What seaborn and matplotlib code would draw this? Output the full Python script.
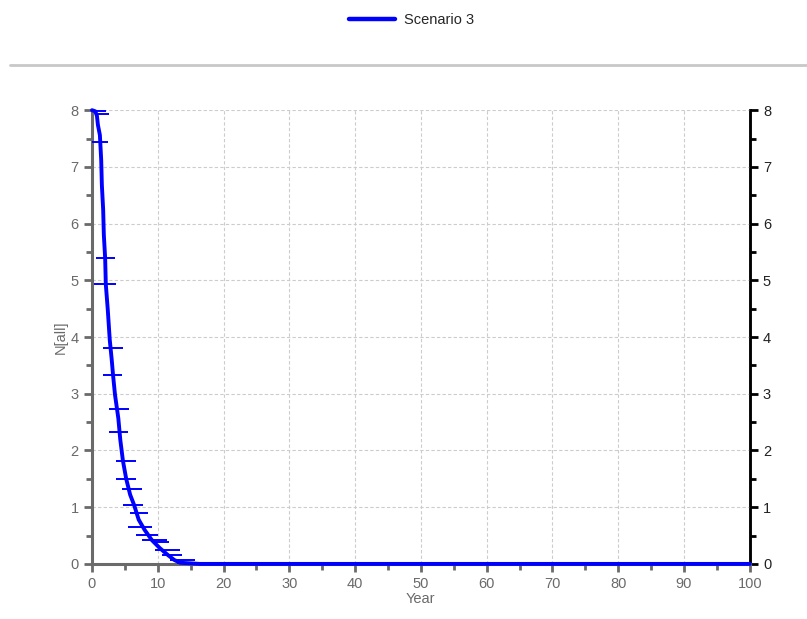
import matplotlib
matplotlib.use("Agg")
import matplotlib.pyplot as plt
import matplotlib.ticker as mticker
from matplotlib.lines import Line2D
import pandas as pd
import seaborn as sns

# main curve: N[all] by year
YEARS = [0.0, 0.5, 0.75, 0.9, 1.2, 1.4, 1.5, 1.7, 1.8, 2.0, 2.1, 2.4, 2.7, 3.0, 3.2,
         3.5, 4.0, 4.3, 4.7, 5.2, 5.8, 6.4, 7.1, 8.0, 9.1, 10.3, 11.5, 12.5, 13.4,
         16.4, 30.0, 50.0, 70.0, 100.0]
N_ALL = [8.0, 7.98, 7.9, 7.74, 7.56, 7.12, 6.68, 6.24, 5.8, 5.39, 4.93, 4.48, 3.95,
         3.6, 3.33, 2.98, 2.57, 2.19, 1.82, 1.5, 1.22, 1.04, 0.78, 0.6, 0.42, 0.28,
         0.16, 0.07, 0.02, 0.0, 0.0, 0.0, 0.0, 0.0]

# horizontal error bars (centre year, level, half width in years)
ERR_YEAR = [0.4, 1.5, 1.0, 2.05, 2.0, 3.2, 3.1, 4.1, 4.0, 5.2, 5.2, 6.1, 6.2, 7.1,
            7.3, 8.35, 9.5, 10.5, 11.5, 12.2, 13.8, 14.5]
ERR_N = [7.98, 7.93, 7.44, 5.39, 4.93, 3.80, 3.33, 2.73, 2.33, 1.82, 1.50, 1.32,
         1.04, 0.90, 0.65, 0.51, 0.42, 0.39, 0.25, 0.16, 0.07, 0.02]
ERR_HALF = [1.8, 1.05, 1.45, 1.45, 1.7, 1.5, 1.45, 1.5, 1.45, 1.5, 1.5, 1.5, 1.5,
            1.35, 1.8, 1.65, 1.9, 1.15, 1.9, 1.5, 1.9, 1.5]

SERIES = "Scenario 3"
BLUE = "#0000ff"
GRAY = "#6a6a6a"

sns.set_style("white")
plt.rcParams["font.family"] = ["Liberation Sans", "DejaVu Sans"]

fig = plt.figure(figsize=(8.07, 6.19), dpi=100)
ax = fig.add_axes([0.114, 0.089, 0.815, 0.733])

df = pd.DataFrame({"Year": YEARS, "N": N_ALL})
sns.lineplot(data=df, x="Year", y="N", sort=False, estimator=None,
             color=BLUE, linewidth=2.8, ax=ax, zorder=4, clip_on=False)
ax.errorbar(ERR_YEAR, ERR_N, xerr=ERR_HALF, fmt="none", ecolor=BLUE,
            elinewidth=1.4, capsize=0, zorder=4)

ax.set_xlim(0, 100)
ax.set_ylim(0, 8)
ax.xaxis.set_major_locator(mticker.MultipleLocator(10))
ax.xaxis.set_minor_locator(mticker.MultipleLocator(5))
ax.yaxis.set_major_locator(mticker.MultipleLocator(1))
ax.yaxis.set_minor_locator(mticker.MultipleLocator(0.5))

ax.grid(True, which="major", color="#cccccc", linestyle=(0, (3, 2)), linewidth=0.8)
ax.set_axisbelow(True)

ax.spines["top"].set_visible(False)
ax.spines["left"].set_color(GRAY)
ax.spines["left"].set_linewidth(2.2)
ax.spines["bottom"].set_color(GRAY)
ax.spines["bottom"].set_linewidth(2.2)
ax.spines["right"].set_color("black")
ax.spines["right"].set_linewidth(1.8)

ax.tick_params(axis="both", which="major", direction="out", length=6, width=2,
               color=GRAY, labelcolor=GRAY, labelsize=10.5)
ax.tick_params(axis="both", which="minor", direction="out", length=4, width=2,
               color=GRAY)
ax.tick_params(axis="x", which="both", bottom=True)
ax.tick_params(axis="y", which="both", left=True)

ax2 = ax.twinx()
ax2.set_ylim(0, 8)
ax2.yaxis.set_major_locator(mticker.MultipleLocator(1))
ax2.yaxis.set_minor_locator(mticker.MultipleLocator(0.5))
for side in ["top", "left", "bottom"]:
    ax2.spines[side].set_visible(False)
ax2.spines["right"].set_color("black")
ax2.spines["right"].set_linewidth(1.8)
ax2.tick_params(axis="y", which="major", direction="out", length=6, width=2,
                color="black", labelcolor="#222222", labelsize=10.5)
ax2.tick_params(axis="y", which="minor", direction="out", length=4, width=2,
                color="black")
ax.set_zorder(ax2.get_zorder() + 1)
ax.patch.set_visible(False)

ax.set_xlabel("Year", color=GRAY, fontsize=10.5, labelpad=1)
ax.set_ylabel("N[all]", color=GRAY, fontsize=10.5, labelpad=2)

# separator line under the legend
fig.add_artist(Line2D([0.012, 1.0], [0.895, 0.895], color="#c8c8c8",
                      linewidth=2, transform=fig.transFigure))

handle = Line2D([], [], color=BLUE, linewidth=3.2)
fig.legend([handle], [SERIES], loc="center", bbox_to_anchor=(0.51, 0.967),
           frameon=False, fontsize=10.5, handlelength=3.2, handletextpad=0.6)

fig.savefig("out.png", dpi=100)
